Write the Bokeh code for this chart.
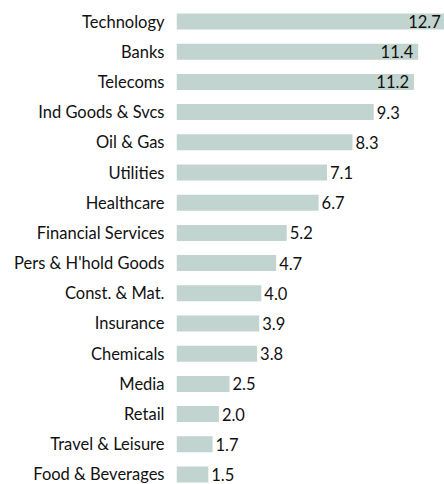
from bokeh.plotting import figure
from bokeh.models import ColumnDataSource, FactorRange, Range1d
from bokeh.embed import file_html
from bokeh.resources import INLINE
from bokeh.core.properties import value

sectors = ["Technology", "Banks", "Telecoms", "Ind Goods & Svcs", "Oil & Gas",
           "Utilities", "Healthcare", "Financial Services", "Pers & H'hold Goods",
           "Const. & Mat.", "Insurance", "Chemicals", "Media", "Retail",
           "Travel & Leisure", "Food & Beverages"]
weights = [12.7, 11.4, 11.2, 9.3, 8.3, 7.1, 6.7, 5.2, 4.7, 4.0, 3.9, 3.8, 2.5, 2.0, 1.7, 1.5]
weight_labels = ["12.7", "11.4", "11.2", "9.3", "8.3", "7.1", "6.7", "5.2", "4.7",
                 "4.0", "3.9", "3.8", "2.5", "2.0", "1.7", "1.5"]

FONT = "Lato"
FSIZE = "16.5px"
BAR = "#c2d4cf"

factors = list(reversed(sectors))
p = figure(width=444, height=484, output_backend="svg", toolbar_location=None,
           y_range=FactorRange(factors=factors, range_padding=-0.0211),
           x_range=Range1d(0, 12.64),
           min_border_left=176, min_border_right=0, min_border_top=11, min_border_bottom=0)

src = ColumnDataSource(dict(s=sectors, v=weights, t=weight_labels))
p.hbar(y="s", right="v", left=0, height=0.53, source=src, color=BAR, line_color=None)

inside = [v > 11 for v in weights]
src_in = ColumnDataSource(dict(s=[s for s, f in zip(sectors, inside) if f],
                               v=[v for v, f in zip(weights, inside) if f],
                               t=[t for t, f in zip(weight_labels, inside) if f]))
src_out = ColumnDataSource(dict(s=[s for s, f in zip(sectors, inside) if not f],
                                v=[v for v, f in zip(weights, inside) if not f],
                                t=[t for t, f in zip(weight_labels, inside) if not f]))
p.text(x="v", y="s", text="t", source=src_out, x_offset=3, text_align="left",
       text_baseline="middle", text_font=value(FONT), text_font_size=FSIZE, text_color="#111111")
p.text(x="v", y="s", text="t", source=src_in, x_offset=-5, text_align="right",
       text_baseline="middle", text_font=value(FONT), text_font_size=FSIZE, text_color="#111111")

p.xaxis.visible = False
p.xgrid.visible = False
p.ygrid.visible = False
p.outline_line_color = None
ax = p.yaxis[0]
ax.axis_line_color = None
ax.major_tick_line_color = None
ax.minor_tick_line_color = None
ax.major_label_standoff = 6
ax.major_label_text_font = FONT
ax.major_label_text_font_size = FSIZE
ax.major_label_text_color = "#111111"

open("out.html", "w").write(file_html(p, INLINE))
